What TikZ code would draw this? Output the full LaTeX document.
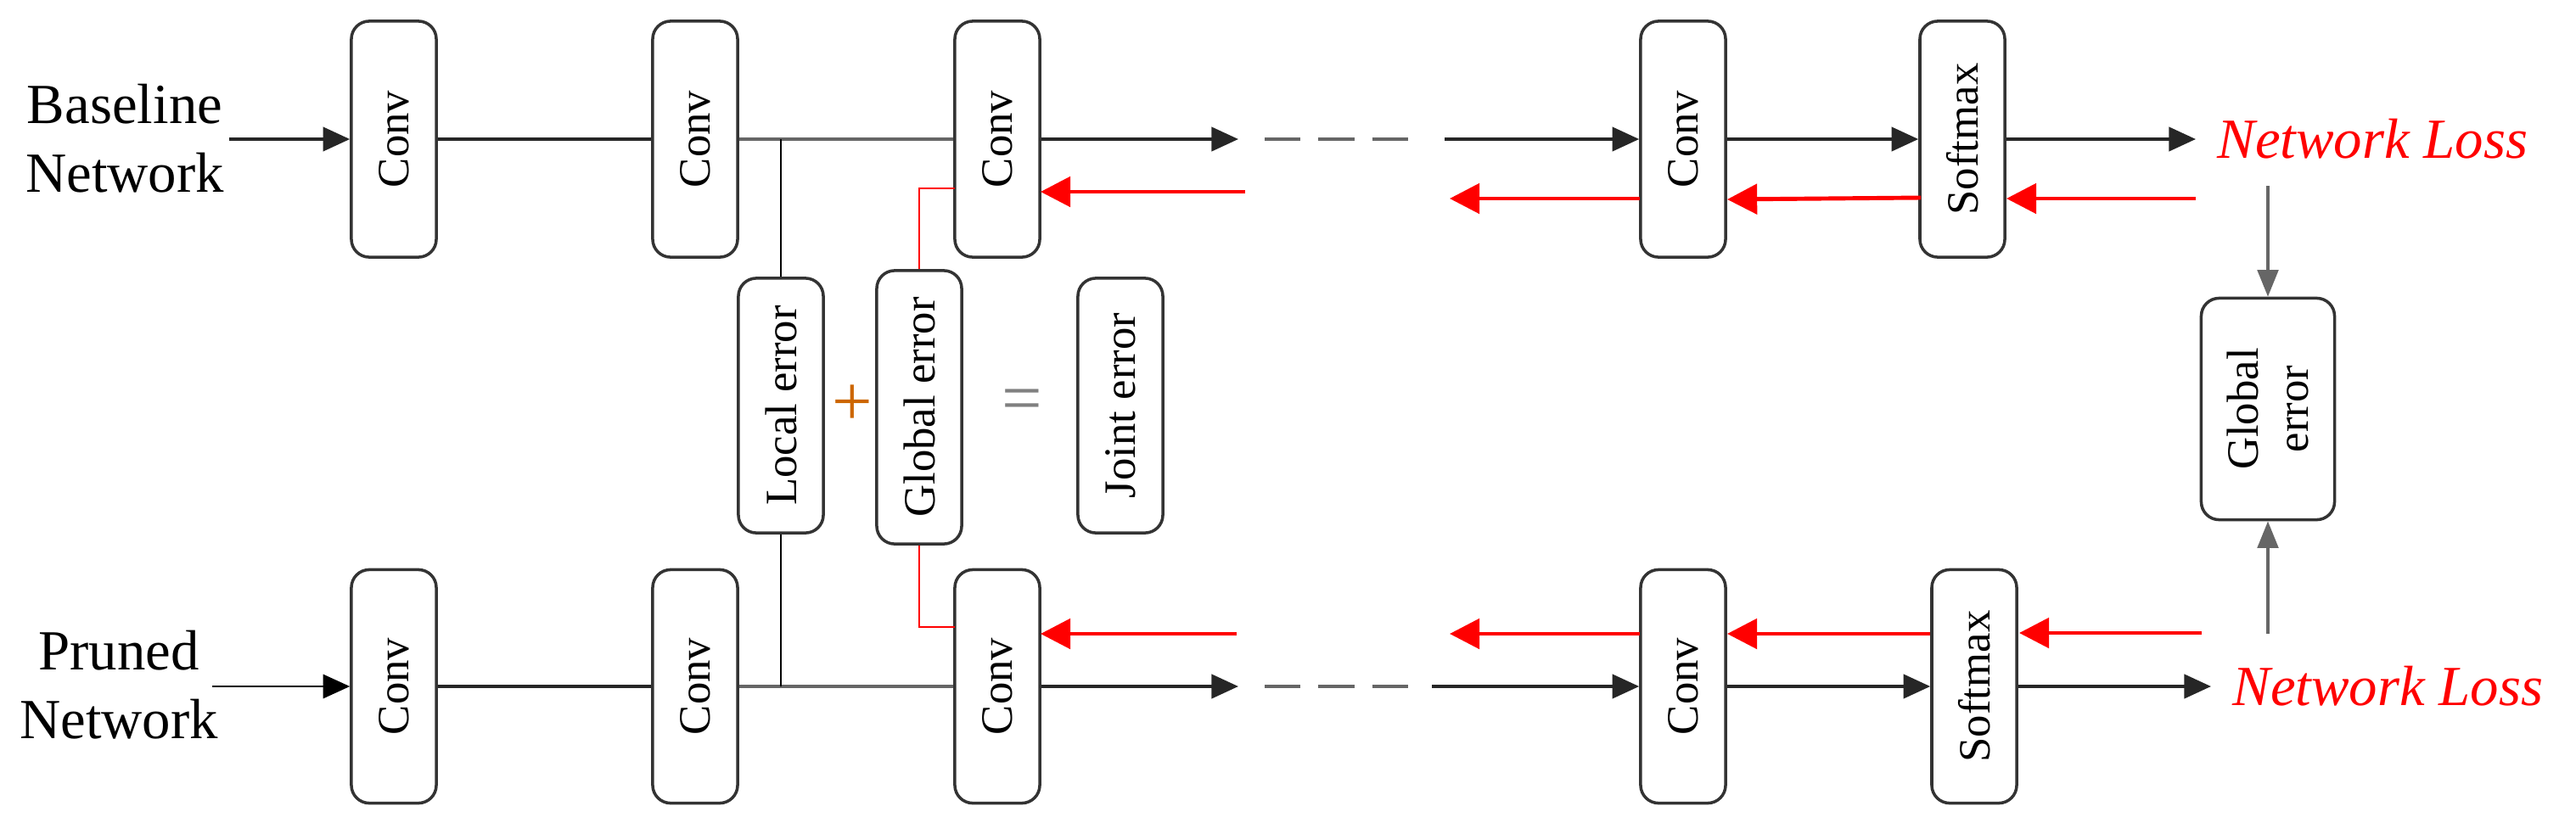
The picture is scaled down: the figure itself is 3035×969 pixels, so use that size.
\documentclass[tikz,border=0pt]{standalone}
\usepackage{fontspec}
\setmainfont{Liberation Serif}
\usetikzlibrary{arrows.meta}
\begin{document}
\begin{tikzpicture}[x=0.01cm,y=-0.01cm,
  box/.style={draw=black!80,line width=1pt,rounded corners=6pt,rotate=90,minimum height=1cm,inner sep=2pt,font=\fontsize{15}{17}\selectfont},
  ln/.style={line width=1.1pt,black!85},
  arr/.style={ln,-{Triangle[length=9pt,width=8pt]}},
  rarr/.style={line width=1.4pt,red,-{Triangle[length=10pt,width=10pt]}},
  garr/.style={line width=1pt,black!60,-{Triangle[length=9pt,width=7pt]}},
  dsh/.style={line width=1.1pt,black!60,dash pattern=on 12pt off 6pt on 12pt off 6pt on 12pt off 6pt on 4pt off 20pt},
  lbl/.style={font=\fontsize{19}{23}\selectfont,align=center},
  nl/.style={font=\fontsize{19}{23}\selectfont\itshape,text=red}]
\useasboundingbox (0,0) rectangle (3035,969);
% top row
\node[box,minimum width=2.78cm] (c1) at (464,164) {Conv};
\node[box,minimum width=2.78cm] (c2) at (819,164) {Conv};
\node[box,minimum width=2.78cm] (c3) at (1175,164) {Conv};
\node[box,minimum width=2.78cm] (c4) at (1983,164) {Conv};
\node[box,minimum width=2.78cm] (s1) at (2312,164) {Softmax};
% bottom row
\node[box,minimum width=2.75cm] (p1) at (464,809) {Conv};
\node[box,minimum width=2.75cm] (p2) at (819,809) {Conv};
\node[box,minimum width=2.75cm] (p3) at (1175,809) {Conv};
\node[box,minimum width=2.75cm] (p4) at (1983,809) {Conv};
\node[box,minimum width=2.75cm] (s2) at (2326,809) {Softmax};
% middle
\node[box,minimum width=3.0cm] (le) at (920,478) {Local error};
\node[box,minimum width=3.22cm] (ge) at (1083,480) {Global error};
\node[box,minimum width=3.0cm] (je) at (1320,478) {Joint error};
\node[font=\fontsize{24}{24}\selectfont,text=orange!80!black] (plus) at (1004,478) {+};
\node[font=\fontsize{24}{24}\selectfont,text=black!50] (eq) at (1204,478) {=};
\node[box,minimum width=2.61cm,minimum height=1.57cm,align=center] (ger) at (2672,482) {Global\\error};
% labels
\node[lbl] (bn) at (147,163) {Baseline\\Network};
\node[lbl] (pn) at (140,807) {Pruned\\Network};
\node[nl,anchor=west] (nl1) at (2600,164) {Network Loss};
\node[nl,anchor=west] (nl2) at (2618,809) {Network Loss};
% coordinates
\coordinate (a0) at (270,164);
\coordinate (b0) at (250,809);
\coordinate (ta) at (1459,164); \coordinate (td1) at (1490,164); \coordinate (td2) at (1665,164); \coordinate (tb) at (1702,164);
\coordinate (ba) at (1459,809); \coordinate (bd1) at (1490,809); \coordinate (bd2) at (1665,809); \coordinate (bb) at (1687,809);
\coordinate (te) at (2587,164); \coordinate (be) at (2605,809);
\coordinate (lt) at (920,164); \coordinate (lb) at (920,809);
% forward
\draw[arr] (a0) -- (c1);
\draw[ln] (c1) -- (c2); \draw[ln,black!60] (c2) -- (c3);
\draw[arr] (c3) -- (ta);
\draw[dsh] (td1) -- (td2);
\draw[arr] (tb) -- (c4); \draw[arr] (c4) -- (s1); \draw[arr] (s1) -- (te);
\draw[line width=0.8pt,-{Triangle[length=9pt,width=8pt]}] (b0) -- (p1);
\draw[ln] (p1) -- (p2); \draw[ln,black!60] (p2) -- (p3);
\draw[arr] (p3) -- (ba);
\draw[dsh] (bd1) -- (bd2);
\draw[arr] (bb) -- (p4); \draw[arr] (p4) -- (s2); \draw[arr] (s2) -- (be);
% local error links
\draw[line width=0.8pt] (lt) -- (le); \draw[line width=0.8pt] (le) -- (lb);
% global error red links
\coordinate (gt) at (1083,222); \coordinate (gt2) at (1125,222);
\coordinate (gb) at (1083,739); \coordinate (gb2) at (1125,739);
\draw[red,line width=0.7pt] (ge) -- (gt) -- (gt2);
\draw[red,line width=0.7pt] (ge) -- (gb) -- (gb2);
% backward top
\coordinate (r1) at (1467,226); \coordinate (r1e) at (1226,226);
\coordinate (r2s) at (1932,234); \coordinate (r2e) at (1708,234);
\coordinate (r3s) at (2263,233); \coordinate (r3e) at (2035,235);
\coordinate (r4s) at (2587,234); \coordinate (r4e) at (2364,234);
\draw[rarr] (r1) -- (r1e); \draw[rarr] (r2s) -- (r2e); \draw[rarr] (r3s) -- (r3e); \draw[rarr] (r4s) -- (r4e);
% backward bottom
\coordinate (q1) at (1457,747); \coordinate (q1e) at (1226,747);
\coordinate (q2s) at (1932,747); \coordinate (q2e) at (1708,747);
\coordinate (q3s) at (2274,747); \coordinate (q3e) at (2035,747);
\coordinate (q4s) at (2594,746); \coordinate (q4e) at (2379,746);
\draw[rarr] (q1) -- (q1e); \draw[rarr] (q2s) -- (q2e); \draw[rarr] (q3s) -- (q3e); \draw[rarr] (q4s) -- (q4e);
% global error (right)
\coordinate (gr1) at (2672,219); \coordinate (gr2) at (2672,747);
\draw[garr] (gr1) -- (ger); \draw[garr] (gr2) -- (ger);
\end{tikzpicture}
\end{document}
